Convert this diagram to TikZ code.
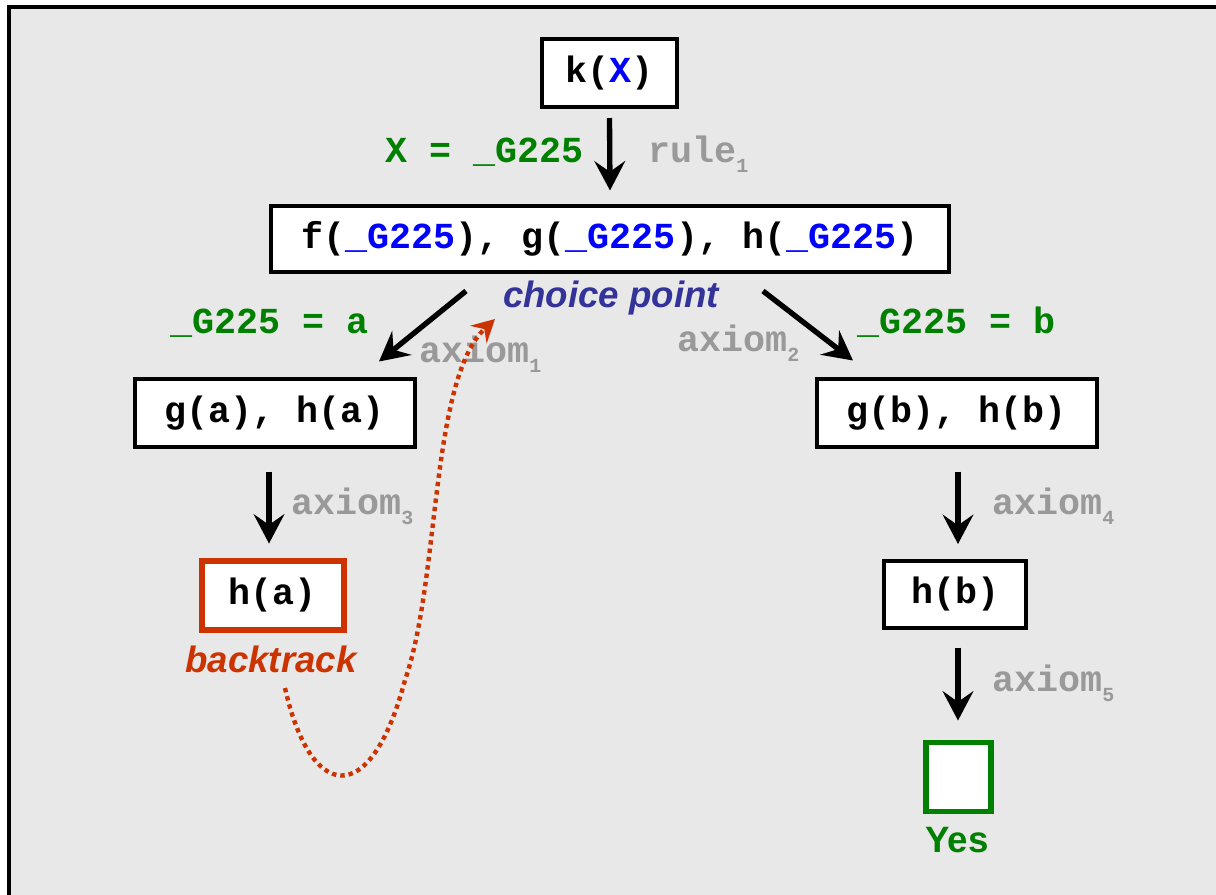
\documentclass[tikz,border=0pt]{standalone}
\usepackage{fontspec}
\setmainfont{Liberation Sans}
\newfontfamily\cour{Liberation Mono}
\usetikzlibrary{arrows.meta,calc}
\definecolor{bg}{RGB}{232,232,232}
\definecolor{lgreen}{RGB}{0,128,0}
\definecolor{lblue}{RGB}{0,0,255}
\definecolor{lgray}{RGB}{153,153,153}
\definecolor{lred}{RGB}{204,51,0}
\definecolor{lviolet}{RGB}{51,51,153}
\newcommand\subd[1]{\raisebox{-7.5pt}{\fontsize{15}{15}\selectfont #1}}
\tikzset{
  px/.style={x=0.75pt,y=-0.75pt},
  box/.style={draw=black,line width=3pt,fill=white,inner sep=0pt,
    font=\cour\bfseries\fontsize{27.5}{30}\selectfont,text=black},
  redbox/.style={box,draw=lred,line width=4.2pt},
  greenbox/.style={box,draw=lgreen,line width=4.2pt},
  lab/.style={inner sep=0pt,font=\cour\bfseries\fontsize{27.5}{30}\selectfont},
  slab/.style={inner sep=0pt,font=\bfseries\itshape\fontsize{27.5}{30}\selectfont},
  ylab/.style={inner sep=0pt,font=\bfseries\fontsize{27.5}{30}\selectfont},
  arr/.style={line width=4pt,-{Stealth[length=22pt,width=23pt,inset=8pt]}},
  btarr/.style={draw=lred,line width=3.3pt,dash pattern=on 3.3pt off 3pt,
    -{Stealth[length=17pt,width=18pt,inset=6pt,fill=lred]}}
}
\begin{document}
\begin{tikzpicture}[px]
\useasboundingbox (0,0) rectangle (1216,894);
\clip (0,0) rectangle (1216,894);
\draw[line width=3pt,fill=bg] (9,6.5) rectangle (1240,920);

% nodes
\node[box,minimum width=101.25pt,minimum height=51pt] (k) at (609.5,73) {k(\textcolor{lblue}{X})};
\node[box,minimum width=508.5pt,minimum height=49.5pt] (f) at (610,238.5)
  {f(\textcolor{lblue}{\_G225}), g(\textcolor{lblue}{\_G225}), h(\textcolor{lblue}{\_G225})};
\node[box,minimum width=210pt,minimum height=51pt] (ga) at (275,413) {g(a), h(a)};
\node[box,minimum width=210pt,minimum height=51pt] (gb) at (957,413) {g(b), h(b)};
\node[redbox,minimum width=106.8pt,minimum height=52pt] (ha) at (273,595.5) {h(a)};
\node[box,minimum width=106.5pt,minimum height=50.25pt] (hb) at (955,594.5) {h(b)};
\node[greenbox,minimum width=49pt,minimum height=52pt] (yes) at (958.5,777) {};

% labels
\node[lab,text=lgreen,anchor=base east] (l1) at (584,162) {X = \_G225};
\node[lab,text=lgray,anchor=base west] (r1) at (648,162) {rule\subd{1}};
\node[slab,text=lviolet,anchor=base] (cp) at (611,307) {choice point};
\node[lab,text=lgreen,anchor=base west] (la) at (170,333) {\_G225 = a};
\node[lab,text=lgray,anchor=base west] (ax1) at (419,362) {axiom\subd{1}};
\node[lab,text=lgray,anchor=base west] (ax2) at (677,351) {axiom\subd{2}};
\node[lab,text=lgreen,anchor=base west] (lb) at (857,333) {\_G225 = b};
\node[lab,text=lgray,anchor=base west] (ax3) at (291,514) {axiom\subd{3}};
\node[lab,text=lgray,anchor=base west] (ax4) at (992,514) {axiom\subd{4}};
\node[lab,text=lgray,anchor=base west] (ax5) at (992,691) {axiom\subd{5}};
\node[slab,text=lred,anchor=base] (bt) at (271,672) {backtrack};
\node[ylab,text=lgreen,anchor=base] (yl) at (957,852) {Yes};

% connectors
\draw[arr] ($(k.south)+(0,9)$) -- ($(f.north)+(0,-13)$);
\draw[arr] ($(f.south)+(-144,17.5)$) -- ($(ga.north)+(104,-15.5)$);
\draw[arr] ($(f.south)+(153,17.5)$) -- ($(gb.north)+(-104,-16.5)$);
\draw[arr] ($(ga.south)+(-6,22.5)$) -- ($(ha.north)+(-4,-14.5)$);
\draw[arr] ($(gb.south)+(1,22.5)$) -- ($(hb.north)+(3,-15)$);
\draw[arr] ($(hb.south)+(3,17.5)$) -- ($(yes.north)+(-0.5,-19)$);

% backtrack curve
\coordinate (bs) at (285,688);
\coordinate (ce) at (495,319);
\draw[btarr] (bs) .. controls (310,800) and (370,812) .. (405,680)
  .. controls (440,580) and (430,380) .. (ce);
\end{tikzpicture}
\end{document}
